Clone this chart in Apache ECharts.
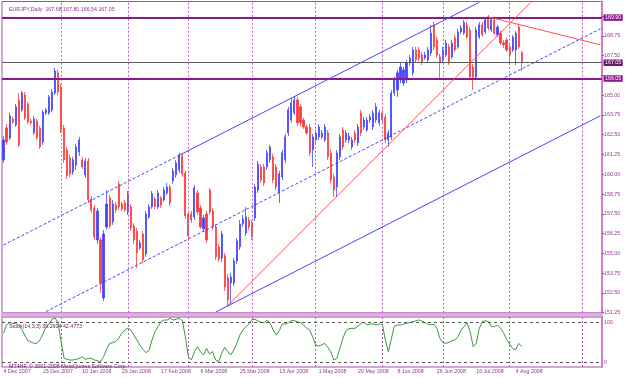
<!DOCTYPE html>
<html><head><meta charset="utf-8">
<script src="https://cdn.jsdelivr.net/npm/echarts/dist/echarts.min.js"></script>
<style>html,body{margin:0;padding:0;background:#fff}#c{width:625px;height:378px}</style>
</head><body><div id="c"></div>
<script>
const opens = [160.91,162.93,162.30,163.50,163.12,164.70,164.07,165.01,164.45,163.37,
162.61,163.37,162.93,162.04,163.88,163.88,164.07,165.14,166.41,165.46,
162.93,161.54,161.03,160.15,160.59,161.41,160.91,159.96,160.84,158.44,
157.87,155.85,155.85,152.18,156.67,158.50,156.99,158.06,159.39,158.12,
158.19,157.62,157.94,156.73,156.42,155.34,156.23,154.96,157.30,157.94,
158.44,157.94,158.50,158.38,158.82,159.20,159.58,159.96,160.27,161.16,
160.08,157.49,157.49,157.30,158.82,157.87,156.55,157.49,159.01,157.68,
156.67,155.41,154.71,154.84,153.45,153.13,153.13,154.52,155.41,156.86,
156.29,157.11,156.92,157.24,159.01,160.46,160.46,160.46,160.91,161.10,
160.46,158.82,159.83,160.91,162.61,163.43,163.88,164.70,164.26,163.43,
162.99,162.99,161.54,162.17,162.36,162.36,162.17,162.61,161.35,159.83,
159.20,161.10,162.80,162.17,162.17,161.73,162.61,161.98,163.88,162.99,
162.80,163.43,162.99,163.43,163.25,163.88,163.62,162.17,162.36,165.14,
165.33,165.96,165.77,165.96,167.04,166.41,167.86,167.86,167.54,167.35,
167.23,167.67,169.44,168.49,167.42,167.23,167.54,168.05,167.42,168.62,
168.05,169.00,168.93,169.44,169.12,166.78,166.15,168.68,169.44,169.00,
169.95,169.12,169.76,168.81,168.93,168.30,168.49,168.05,167.86,167.86,
169.31,167.68];
const closes = [162.17,162.04,163.69,163.31,164.26,161.85,165.14,163.56,163.31,163.25,
163.50,162.30,161.73,163.94,164.07,164.89,165.20,166.53,165.20,162.80,
160.91,159.90,160.02,160.91,161.73,162.17,160.46,160.84,158.38,157.75,
156.04,157.68,153.13,156.23,158.12,156.73,158.12,157.75,157.94,157.81,
157.75,158.76,156.61,155.85,155.03,155.66,154.59,157.49,157.94,158.76,
158.00,158.82,158.06,159.01,159.20,158.19,160.21,160.72,161.22,160.02,
157.37,156.10,157.11,159.14,157.62,156.67,157.24,155.85,157.62,156.67,
154.78,154.65,156.23,152.88,152.06,153.51,154.52,155.79,156.86,157.18,
157.30,156.67,156.04,159.20,160.65,159.64,159.45,161.35,161.73,159.64,
159.20,160.02,161.35,162.36,164.07,164.51,164.70,163.25,163.25,162.99,
162.61,161.35,162.36,162.61,162.99,162.61,162.99,161.10,159.64,159.01,
161.35,162.36,161.73,162.61,162.42,162.17,162.17,162.99,162.61,163.43,
163.43,163.62,163.88,164.26,163.88,163.43,162.17,162.61,165.14,165.96,
166.41,166.78,166.60,167.04,167.35,167.86,167.23,167.35,167.10,167.54,
167.86,168.93,168.05,167.54,167.10,167.86,168.30,167.04,168.30,167.86,
169.00,169.25,169.57,168.68,166.15,166.15,169.12,169.44,168.81,169.76,
169.25,169.76,168.93,169.31,168.30,168.18,167.86,167.54,168.68,168.93,
168.05,167.05];
const lows = [160.72,161.85,162.17,163.18,162.99,161.73,163.94,163.43,163.18,163.12,
162.49,162.17,161.60,161.85,163.75,163.75,163.94,165.01,165.01,162.61,
160.72,159.71,159.83,159.96,160.27,161.16,160.34,159.77,158.19,157.56,
155.85,155.60,152.50,151.99,156.48,156.55,156.80,157.56,157.75,157.68,
157.62,157.43,156.42,155.60,154.08,155.22,154.40,154.78,157.18,157.81,
157.81,157.81,157.87,158.25,158.69,158.00,159.39,159.77,160.08,159.83,
157.18,155.91,156.92,157.11,157.43,156.55,156.36,155.66,157.43,156.48,
154.59,154.46,154.46,152.63,151.61,151.80,152.94,154.33,155.22,156.67,
156.10,156.48,155.85,157.05,158.82,159.45,159.26,160.27,160.72,159.45,
159.01,158.19,159.64,160.72,162.42,163.25,163.75,163.06,163.06,162.87,
162.49,161.16,160.46,161.98,162.17,162.23,162.04,160.91,159.45,158.57,
158.57,160.91,161.54,161.98,161.98,161.54,161.98,161.79,162.42,162.80,
162.68,163.25,162.80,163.25,163.06,163.25,161.98,161.73,162.17,164.95,
164.89,165.77,165.58,165.77,166.85,166.22,167.04,167.16,166.91,167.23,
167.04,167.48,167.86,167.35,166.09,167.10,167.42,166.91,167.29,167.73,
167.92,168.87,168.81,168.55,165.96,165.33,165.96,168.55,168.68,168.87,
169.12,169.00,168.81,168.68,168.18,167.99,167.73,166.91,167.73,166.91,
167.92,166.54];
const highs = [162.42,163.18,163.88,163.62,164.45,165.14,165.27,165.20,164.57,163.50,
163.69,163.50,163.06,164.07,164.19,165.01,165.39,166.72,166.60,165.71,
163.12,161.73,161.22,161.10,161.92,162.36,161.10,161.03,161.03,158.63,
158.06,157.87,156.04,156.48,159.01,158.69,158.38,158.25,159.58,158.25,
158.38,158.95,158.12,156.92,156.61,155.85,156.42,157.68,158.12,158.95,
158.57,159.01,158.63,159.20,159.45,159.33,160.40,160.91,161.35,161.29,
160.21,157.68,157.68,159.33,159.01,158.06,157.43,157.68,159.14,157.87,
156.86,155.60,156.42,155.03,153.70,153.76,154.71,155.98,157.11,157.43,
157.94,157.30,157.11,159.39,160.84,160.65,160.65,161.54,161.85,161.29,
160.65,160.21,161.54,162.55,164.26,164.83,164.89,164.89,164.45,163.56,
163.12,163.18,162.55,162.80,163.18,162.80,163.18,162.80,161.54,160.02,
161.54,162.55,162.99,162.80,162.61,162.36,162.80,163.18,164.07,163.62,
163.62,163.81,164.07,164.51,164.07,164.07,163.81,162.80,165.33,166.15,
166.60,167.10,166.78,167.23,167.54,168.05,168.05,168.05,167.73,167.73,
168.05,169.44,169.63,168.68,167.61,168.05,168.49,168.24,168.49,168.81,
169.19,169.44,169.76,169.63,169.31,166.97,169.31,169.63,169.63,169.88,
170.07,169.88,169.95,169.44,169.06,168.49,168.62,168.18,168.81,169.06,
169.44,167.80];
const stochMain = [63.5,76,79.5,78.5,78.5,76,69.5,61,52.5,51,
48.5,48.5,53.5,62.5,72.5,77.5,84.5,86.5,79.5,51,
26,24.5,23.5,23.5,24.5,26,28.5,24.5,26,26,
23.5,22.5,21,28.5,39.5,48.5,49.5,51,56,63.5,
68.5,71,68.5,61,53.5,46,39.5,34.5,37.5,53.5,
66,73.5,81,83.5,83.5,86,83.5,84.5,86,82.5,
58.5,28.5,23.5,36,43.5,36,31,41,32.5,36,
23.5,21,33.5,42.5,36,31,38.5,48.5,61,68.5,
73.5,77.5,84.5,84.5,82,80,79.5,83.5,78.5,68.5,
61,67.5,77.5,77.5,79.5,82.5,82.5,81,79.5,76,
71,68.5,58.5,46,44.5,46,48.5,42.5,36,23.5,
26,41,56,67.5,70.5,71,71,74.5,78.5,80,
76,77.5,77.5,76,77.5,77.5,53.5,36,56,74.5,
76,76,77.5,78.5,79.5,81,82,83.5,82,80,
77.5,76,77.5,71,56,49.5,48.5,50,52.5,53.5,
58.5,68.5,73.5,79.5,66,43.5,48.5,71,81,82.5,
81,73.5,73.5,76,71,64.5,54.5,47.5,41,38.5,
48.5,43.5];
const dateLabels = ['4 Dec 2007','23 Dec 2007','10 Jan 2008','29 Jan 2008','17 Feb 2008','6 Mar 2008','25 Mar 2008','13 Apr 2008','1 May 2008','20 May 2008','8 Jun 2008','26 Jun 2008','16 Jul 2008','4 Aug 2008'];
const labelStep = 13;
const slotCount = 198;
const priceMin = 151.25, priceMax = 170.92, priceStep = 1.25;
const hiddenPriceTicks = [166.25];
const priceLabelCeil = 169.5;
const levelLines = [169.90, 167.05, 166.05];
const stochMin = 13, stochMax = 88;
const stochLevels = [80, 20];
const stochLevelText = ['100', '0'];
const monthStarts = [19, 41, 61, 82, 103, 125, 145, 167, 191];
const channelUpper = [[58, 161.20], [157, 170.87]];
const channelUpperExt = [[0, 155.53], [58, 161.20]];
const channelMid = [[14, 151.32], [197, 169.20]];
const channelLower = [[70, 151.29], [197, 163.70]];
const redLine1 = [[74, 151.70], [174, 170.86]];
const redLine2 = [[160, 169.95], [197, 168.18]];
const titleText = 'EURJPY,Daily  167.68 167.80 166.54 167.05';
const stochText = 'Stoch(14,3,3) 39.2604 42.4773';
const copyText = 'MT4HF, \u00a9 2001-2008 MetaQuotes Software Corp.';

const cats = Array.from({length: slotCount}, (_, i) => 'b' + i);
const candles = opens.map((o, i) => [o, closes[i], lows[i], highs[i]]);
const FONT = 'Liberation Sans';
const FS = 5.3;
const PURPLE = '#993399';
const BLUE = '#4444ff', RED = '#ff3a3a';

function seg(pts, color, type) {
  return [{coord: pts[0], lineStyle: {color: color, width: 1, type: type}},
          {coord: pts[1]}];
}
const vLines = monthStarts.map(i => ({xAxis: i, lineStyle: {color: '#b860b8', width: 1, type: [2, 2]}}));

const chart = echarts.init(document.getElementById('c'), null, {renderer: 'canvas'});
chart.setOption({
  animation: false,
  backgroundColor: '#ffffff',
  title: [
    {text: titleText, left: 4, top: 2.5, textStyle: {fontSize: FS, fontWeight: 'normal', color: '#9a2c9a', fontFamily: FONT}},
    {text: stochText, left: 4, top: 319, textStyle: {fontSize: FS, fontWeight: 'normal', color: '#6a226a', fontFamily: FONT}},
    {text: copyText, left: 4, top: 359, textStyle: {fontSize: FS, fontWeight: 'normal', color: '#6a226a', fontFamily: FONT}}
  ],
  grid: [
    {left: 2, right: 23, top: 1.5, height: 311.2, show: true, borderColor: '#a050a0', borderWidth: 1, containLabel: false, outerBoundsMode: 'none'},
    {left: 2, right: 23, top: 317, height: 50, show: true, borderColor: '#a050a0', borderWidth: 1, containLabel: false, outerBoundsMode: 'none'},
    {left: 2, right: 23, top: 312.7, height: 4.3, show: true, backgroundColor: '#dcb0dc', borderColor: '#c890c8', borderWidth: 1, containLabel: false, outerBoundsMode: 'none'}
  ],
  xAxis: [
    {type: 'category', gridIndex: 0, data: cats, boundaryGap: true, axisLine: {show: false}, axisTick: {show: false}, axisLabel: {show: false}, splitLine: {show: false}},
    {type: 'category', gridIndex: 1, data: cats, boundaryGap: true, axisLine: {show: false}, axisTick: {show: false}, splitLine: {show: false},
     axisLabel: {show: true, interval: labelStep - 1, align: 'left', margin: 2, fontSize: FS, color: PURPLE, fontFamily: FONT,
       formatter: (v, idx) => (idx % labelStep === 0 && dateLabels[idx / labelStep]) ? dateLabels[idx / labelStep] : ''}}
  ],
  yAxis: [
    {type: 'value', gridIndex: 0, position: 'right', min: priceMin, max: priceMax, interval: priceStep, scale: true,
     axisLine: {show: true, lineStyle: {color: '#cc80cc', width: 2}},
     axisTick: {show: true, length: 2, lineStyle: {color: '#a040a0'}},
     splitLine: {show: false},
     axisLabel: {margin: 2, fontSize: FS, color: PURPLE, fontFamily: FONT, showMaxLabel: false,
       formatter: v => (v > priceLabelCeil || hiddenPriceTicks.some(h => Math.abs(h - v) < 1e-6)) ? '' : v.toFixed(2)}},
    {type: 'value', gridIndex: 1, position: 'right', min: stochMin, max: stochMax,
     axisLine: {show: true, lineStyle: {color: '#cc80cc', width: 2}},
     axisTick: {show: false}, axisLabel: {show: false}, splitLine: {show: false}}
  ],
  series: [
    {type: 'candlestick', xAxisIndex: 0, yAxisIndex: 0, data: candles, barWidth: 1.6,
     itemStyle: {color: BLUE, color0: RED, borderColor: BLUE, borderColor0: RED, borderWidth: 0.8},
     markLine: {silent: true, symbol: ['none', 'none'], animation: false, label: {show: false},
       data: [
         ...vLines,
         ...levelLines.map((v, k) => ({yAxis: v,
            lineStyle: {color: k === 1 ? '#5a5a5a' : '#8a1a8a', width: k === 1 ? 1 : 2, type: 'solid'},
            label: {show: true, position: 'end', distance: 1.5, formatter: v.toFixed(2), fontSize: FS, fontFamily: FONT,
                    color: '#ffffff', backgroundColor: k === 1 ? '#6a1a6a' : '#8a1a8a', padding: [1, 1.5, 0.5, 1.5]}})),
         seg(channelUpper, BLUE, 'solid'),
         seg(channelUpperExt, BLUE, [3, 2]),
         seg(channelMid, BLUE, [3, 2]),
         seg(channelLower, BLUE, 'solid'),
         seg(redLine1, '#ff5050', 'solid'),
         seg(redLine2, '#ff5050', 'solid')
       ]}},
    {type: 'line', xAxisIndex: 1, yAxisIndex: 1, data: stochMain, symbol: 'none', smooth: false,
     lineStyle: {color: '#3a9a3a', width: 1},
     markLine: {silent: true, symbol: ['none', 'none'], animation: false, label: {show: false},
       data: [
         ...vLines,
         ...stochLevels.map((v, k) => ({yAxis: v, lineStyle: {color: '#555555', width: 1, type: [3, 3]},
            label: {show: true, position: 'end', distance: 2, formatter: stochLevelText[k], fontSize: FS, fontFamily: FONT, color: PURPLE}}))
       ]}}
  ]
});
</script>
</body></html>
